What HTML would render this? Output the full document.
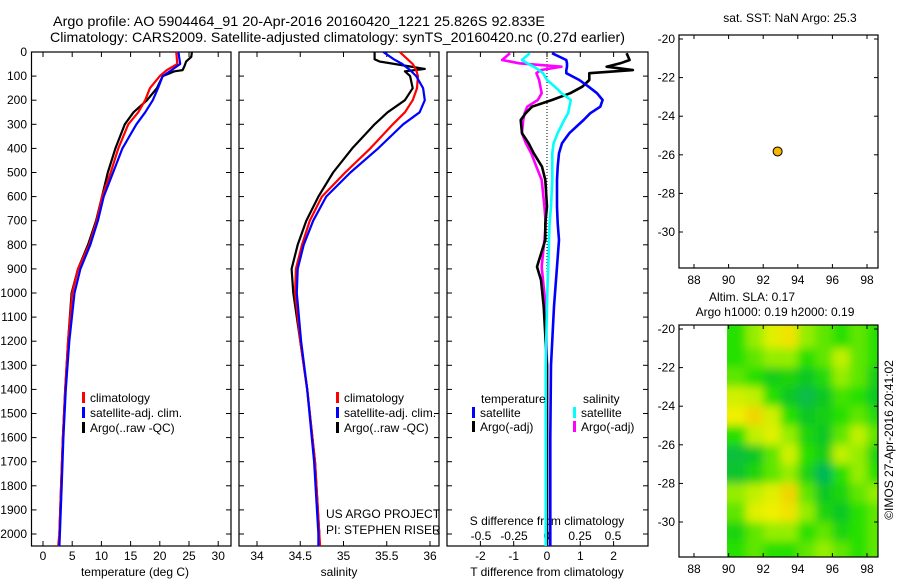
<!DOCTYPE html>
<html><head><meta charset="utf-8"><style>
body{margin:0;background:#fff}
svg text{font-family:"Liberation Sans",sans-serif;font-size:12px;fill:#000}
</style></head><body>
<svg id="s" width="900" height="580" xmlns="http://www.w3.org/2000/svg">
<rect width="900" height="580" fill="#fff"/>
<text x="53" y="26" textLength="492" lengthAdjust="spacingAndGlyphs" style="font-size:14px">Argo profile: AO 5904464_91 20-Apr-2016 20160420_1221 25.826S 92.833E</text>
<text x="50" y="42" textLength="575" lengthAdjust="spacingAndGlyphs" style="font-size:14px">Climatology: CARS2009. Satellite-adjusted climatology: synTS_20160420.nc (0.27d earlier)</text>
<text x="790" y="22" text-anchor="middle">sat. SST: NaN Argo: 25.3</text>
<text x="752" y="301" text-anchor="middle">Altim. SLA: 0.17</text>
<text x="775" y="316" text-anchor="middle">Argo h1000: 0.19 h2000: 0.19</text>
<text transform="translate(893,440) rotate(-90)" text-anchor="middle">©IMOS 27-Apr-2016 20:41:02</text>
<text x="326" y="518">US ARGO PROJECT</text>
<text x="326" y="534">PI: STEPHEN RISER</text>
<text x="135" y="576" text-anchor="middle">temperature (deg C)</text>
<text x="339" y="576" text-anchor="middle">salinity</text>
<text x="547" y="576" text-anchor="middle">T difference from climatology</text>
<text x="547" y="525" text-anchor="middle">S difference from climatology</text>
</svg>
<script>
// ---------- data ----------
const tDepth=[0,20,50,75,100,150,200,250,300,400,500,600,700,800,900,1000,1200,1400,1600,1800,2000,2050];
const tClim=[22.8,22.9,23.0,21.2,20.0,18.3,17.5,16.3,14.6,12.9,11.6,10.1,9.2,7.9,6.0,5.0,4.3,3.8,3.4,3.1,2.8,2.6];
const tSat=[23.2,23.3,23.5,22.0,20.5,19.7,18.8,17.5,16.0,13.6,12.0,10.4,9.4,8.1,6.4,5.4,4.5,3.9,3.5,3.2,2.9,2.8];
const tArgoDepth=[0,20,40,60,75,80,100,150,200,250,300,400,500,600,700,800,900,1000,1200,1400,1600,1800,2000];
const tArgo=[25.5,25.4,24.5,24.2,23.9,22.5,20.5,19.5,17.8,15.5,14.0,12.4,11.1,10.1,9.1,7.7,6.0,4.9,4.3,3.8,3.4,3.1,2.8];
const sDepth=[0,30,50,75,100,150,200,250,300,400,500,600,700,800,900,1000,1200,1400,1700,2000,2050];
const sClim=[35.65,35.74,35.80,35.84,35.86,35.85,35.80,35.71,35.57,35.31,35.02,34.75,34.61,34.52,34.45,34.44,34.50,34.58,34.67,34.72,34.73];
const sSat=[35.46,35.58,35.68,35.77,35.84,35.92,35.94,35.88,35.69,35.40,35.08,34.80,34.65,34.54,34.47,34.46,34.51,34.58,34.66,34.71,34.71];
const sArgoDepth=[0,30,40,60,70,80,100,150,200,250,300,400,500,600,700,800,900,1000,1200,1400,1700,2000];
const sArgo=[35.36,35.36,35.42,35.77,35.94,35.71,35.77,35.80,35.71,35.51,35.36,35.10,34.88,34.71,34.57,34.47,34.40,34.42,34.50,34.58,34.67,34.72];
const dDepth=[5,33,47,61,75,88,116,144,171,199,227,254,282,337,379,420,476,531,641,711,780,891,946,1056,1300,1600,2000,2050];
const dTSat=[0.15,0.58,0.6,0.6,0.58,0.58,0.97,1.25,1.5,1.67,1.6,1.3,1.1,0.67,0.45,0.36,0.32,0.3,0.3,0.32,0.36,0.3,0.27,0.21,0.12,0.1,0.1,0.1];
const dTArgo=[2.39,2.48,2.2,1.79,2.58,1.27,1.27,1.06,0.7,0.15,-0.45,-0.64,-0.79,-0.75,-0.55,-0.4,-0.15,-0.05,0.0,-0.05,-0.05,-0.3,-0.18,-0.1,0.0,0.0,0.0,0.0];
const dSSat=[-0.13,-0.19,-0.15,-0.1,-0.06,-0.03,0.0,0.06,0.11,0.18,0.17,0.16,0.13,0.08,0.05,0.04,0.04,0.04,0.03,0.02,0.015,0.01,0.005,0.0,-0.01,-0.01,-0.01,-0.01];
const dSArgo=[-0.28,-0.34,-0.21,0.11,-0.05,-0.08,-0.06,-0.05,-0.04,-0.07,-0.15,-0.17,-0.18,-0.19,-0.16,-0.12,-0.08,-0.04,-0.02,-0.01,-0.02,-0.04,-0.03,-0.01,0.0,0.0,0.0,0.0];
const depthTicks=[0,100,200,300,400,500,600,700,800,900,1000,1100,1200,1300,1400,1500,1600,1700,1800,1900,2000];
const tTicks=[0,5,10,15,20,25,30];
const sTicks=[34,34.5,35,35.5,36];
const sTickLabels=["34","34.5","35","35.5","36"];
const dtTicks=[-2,-1,0,1,2];
const dsTicks=[-0.5,-0.25,0,0.25,0.5];
const dsTickLabels=["-0.5","-0.25","0","0.25","0.5"];
const lonTicks=[88,90,92,94,96,98];
const latTicks=[-20,-22,-24,-26,-28,-30];
const argoLon=[92.833], argoLat=[-25.826];
const slaLats=[-20,-21,-22,-23,-24,-25,-26,-27,-28,-29,-30,-31];
const slaLons=[90,91,92,93,94,95,96,97,98];
const slaGrid=[
[0.5,0.7,0.9,1.0,0.7,0.6,0.5,0.6,0.5],
[0.5,0.6,0.7,0.7,0.5,0.6,0.8,0.6,0.5],
[0.6,0.5,0.35,0.4,0.3,0.45,0.7,0.6,0.35],
[0.85,0.8,0.5,0.3,0.15,0.3,0.55,0.5,0.3],
[0.95,1.05,0.85,0.5,0.3,0.35,0.5,0.6,0.45],
[0.5,0.8,0.9,0.7,0.4,0.3,0.6,0.8,0.6],
[0.2,0.3,0.6,0.85,0.5,0.35,0.8,0.7,0.4],
[0.25,0.4,0.6,0.7,0.4,0.1,0.5,0.7,0.5],
[0.7,0.8,0.9,1.05,0.6,0.3,0.4,0.6,0.7],
[0.6,0.9,0.95,1.0,0.7,0.4,0.3,0.5,0.6],
[0.4,0.6,0.7,0.7,0.5,0.6,0.4,0.5,0.6],
[0.5,0.6,0.5,0.5,0.6,0.7,0.6,0.5,0.6]];

// ---------- scales ----------
const NS='http://www.w3.org/2000/svg';
const svg=document.getElementById('s');
const Y=d=>52+0.241*d;
const xT=t=>43+5.84*t;
const xS=s=>257+86.5*(s-34);
const xDT=v=>547+33.3*v;
const xDS=v=>547+132*v;
const mX=l=>694+17.3*(l-88);
const mY1=a=>39+19.3*(-20-a);
const mY2=a=>329+19.3*(-20-a);
function el(tag,attrs,parent){const e=document.createElementNS(NS,tag);for(const k in attrs)e.setAttribute(k,attrs[k]);(parent||svg).appendChild(e);return e;}
function txt(x,y,s,anchor){const t=el('text',{x:x,y:y,'text-anchor':anchor||'start'});t.textContent=s;return t;}
function line(xs,ys,color,w,name){
  const pts=xs.map((x,i)=>x.toFixed(1)+','+ys[i].toFixed(1)).join(' ');
  const p=el('polyline',{points:pts,fill:'none',stroke:color,'stroke-width':w,'stroke-linejoin':'round'});
  
  
}
function frame(x0,x1,y0,y1,name){
  const r=el('rect',{x:x0,y:y0,width:x1-x0,height:y1-y0,fill:'none',stroke:'#000','stroke-width':1.2});
  
  
}
const P1=[31.5,231],P2=[239,439],P3=[447,648],TOP=52,BOT=546;
frame(P1[0],P1[1],TOP,BOT,'temperature-panel');
frame(P2[0],P2[1],TOP,BOT,'salinity-panel');
frame(P3[0],P3[1],TOP,BOT,'difference-panel');
depthTicks.forEach(d=>{
  const y=Y(d);
  [P1,P2,P3].forEach((P,i)=>{el('line',{x1:P[0],x2:P[0]+5,y1:y,y2:y,stroke:'#000'});el('line',{x1:P[1],x2:P[1]-5,y1:y,y2:y,stroke:'#000'});});
  const t=txt(27,y+4,String(d),'end');
  
  
});
function xticks(vals,labels,fx,P,ly,name){
  vals.forEach((v,i)=>{const x=fx(v);
    el('line',{x1:x,x2:x,y1:BOT,y2:BOT-5,stroke:'#000'});el('line',{x1:x,x2:x,y1:TOP,y2:TOP+5,stroke:'#000'});
    if(ly){const t=txt(x,ly,labels[i],'middle');
    
    }
  });
}
xticks(tTicks,tTicks.map(String),xT,P1,560,'temperature-tick-label');
xticks(sTicks,sTickLabels,xS,P2,560,'salinity-tick-label');
xticks(dtTicks,dtTicks.map(String),xDT,P3,560,'t-diff-tick-label');
dsTicks.forEach((v,i)=>{const t=txt(xDS(v),540,dsTickLabels[i],'middle');
  
  });
const z=el('line',{x1:xDT(0),x2:xDT(0),y1:TOP,y2:BOT,stroke:'#000','stroke-dasharray':'1,2'});


line(tArgoDepth.map((d,i)=>xT(tArgo[i])),tArgoDepth.map(Y),'#000',2.2,'temperature-argo-line');
line(tDepth.map((d,i)=>xT(tClim[i])),tDepth.map(Y),'#f00',2.2,'temperature-climatology-line');
line(tDepth.map((d,i)=>xT(tSat[i])),tDepth.map(Y),'#00f',2.2,'temperature-satellite-line');
line(sArgoDepth.map((d,i)=>xS(sArgo[i])),sArgoDepth.map(Y),'#000',2.2,'salinity-argo-line');
line(sDepth.map((d,i)=>xS(sClim[i])),sDepth.map(Y),'#f00',2.2,'salinity-climatology-line');
line(sDepth.map((d,i)=>xS(sSat[i])),sDepth.map(Y),'#00f',2.2,'salinity-satellite-line');
const dY=dDepth.map(Y);
line(dDepth.map((d,i)=>xDS(dSArgo[i])),dY,'#f0f',2.6,'s-diff-argo-line');
line(dDepth.map((d,i)=>xDT(dTArgo[i])),dY,'#000',2.6,'t-diff-argo-line');
line(dDepth.map((d,i)=>xDS(dSSat[i])),dY,'#0ff',2.6,'s-diff-satellite-line');
line(dDepth.map((d,i)=>xDT(dTSat[i])),dY,'#00f',2.6,'t-diff-satellite-line');
function legend(x,y,color,label,name){
  const r=el('rect',{x:x,y:y-10,width:3,height:11,fill:color});
  
  
  const t=txt(x+8,y,label);
  
  
}
[[82,'#f00','climatology'],[82,'#00f','satellite-adj. clim.'],[82,'#000','Argo(..raw -QC)']].forEach((a,i)=>legend(a[0],402+i*15,a[1],a[2],'temp-legend-entry'));
[[336,'#f00','climatology'],[336,'#00f','satellite-adj. clim.'],[336,'#000','Argo(..raw -QC)']].forEach((a,i)=>legend(a[0],402+i*15,a[1],a[2],'sal-legend-entry'));
const h1=txt(481,403,'temperature');


const h2=txt(583,403,'salinity');


legend(472,417,'#00f','satellite','diff-legend-t-satellite');
legend(472,431,'#000','Argo(-adj)','diff-legend-t-argo');
legend(573,417,'#0ff','satellite','diff-legend-s-satellite');
legend(573,431,'#f0f','Argo(-adj)','diff-legend-s-argo');
function mapFrame(y0,y1,fy,name){
  frame(679,878,y0,y1,name);
  lonTicks.forEach(l=>{const x=mX(l);el('line',{x1:x,x2:x,y1:y1,y2:y1-4,stroke:'#000'});el('line',{x1:x,x2:x,y1:y0,y2:y0+4,stroke:'#000'});
    const t=txt(x,y1+16,String(l),'middle');});
  latTicks.forEach(a=>{const y=fy(a);el('line',{x1:679,x2:683,y1:y,y2:y,stroke:'#000'});el('line',{x1:878,x2:874,y1:y,y2:y,stroke:'#000'});
    const t=txt(675,y+4,String(a),'end');});
}
const stops=[[0,[0,176,112]],[0.3,[16,200,32]],[0.5,[40,224,0]],[0.75,[176,240,0]],[0.95,[240,240,0]],[1.1,[240,200,0]]];
function col(v){for(let i=1;i<stops.length;i++){if(v<=stops[i][0]){const a=stops[i-1],b=stops[i];const f=Math.max(0,(v-a[0])/(b[0]-a[0]));return 'rgb('+a[1].map((c,k)=>Math.round(c+(b[1][k]-c)*f)).join(',')+')';}}return 'rgb(240,200,0)';}
const defs=el('defs',{});
const cp=el('clipPath',{id:'mc'},defs);el('rect',{x:727,y:325,width:151,height:232},cp);
const fl=el('filter',{id:'bl',x:'-10%',y:'-10%',width:'120%',height:'120%'},defs);el('feGaussianBlur',{stdDeviation:4.5},fl);
const g=el('g',{'clip-path':'url(#mc)'});


const g2=el('g',{filter:'url(#bl)'},g);
el('rect',{x:720,y:315,width:170,height:250,fill:col(0.55)},g2);
slaLats.forEach((a,r)=>slaLons.forEach((l,c)=>{
  const cell=el('rect',{x:mX(l)-(c==0?10:0),y:mY2(a)-(r==0?10:0),width:17.5+(c==0?10:0)+(c==8?20:0),height:19.5+(r==0?10:0)+(r==11?20:0),fill:col(slaGrid[r][c])},g2);
  
  
}));
mapFrame(35,268,mY1,'sst-map');
mapFrame(325,557,mY2,'sla-map');
argoLon.forEach((l,i)=>{const c=el('circle',{cx:mX(l),cy:mY1(argoLat[i]),r:4.5,fill:'#f5b800',stroke:'#000','stroke-width':1});
  
  });
</script>
</body></html>
